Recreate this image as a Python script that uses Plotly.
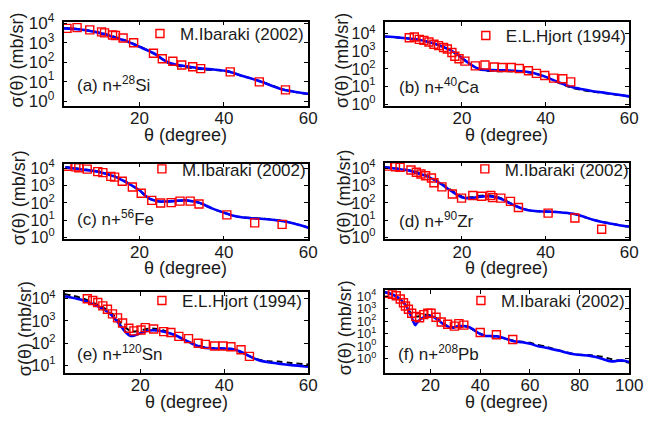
import plotly.graph_objects as go

W, H = 655, 425

# ---------------- data ----------------
# (a) n+28Si
theta_a = [2, 6, 10, 13, 16.4, 18, 20, 22, 24, 25.5, 27, 28.5, 30.3, 32.5, 34.9, 37.5, 40.3, 42.3, 44.2, 46.5, 48.9, 51.5, 54.2, 57, 60]
blue_a = [5500, 4800, 3400, 2250, 1320, 950, 620, 400, 240, 140, 93, 76, 65, 55, 47, 42, 36, 28, 20, 14.5, 9.8, 6.0, 3.8, 2.95, 2.4]
dash_a = [5600, 4900, 3500, 2350, 1380, 1000, 640, 400, 235, 135, 88, 70, 58, 50, 43, 40, 35, 28, 20, 14.5, 10, 6.2, 3.9, 2.9, 2.3]
theta_a_exp = [2.8, 5.2, 8.2, 11.0, 11.7, 13.6, 14.3, 16.1, 18.6, 23.3, 25.4, 27.9, 30.0, 32.6, 34.5, 41.5, 48.4, 54.6]
sigma_a_exp = [5500, 6000, 4600, 3600, 3200, 2500, 2350, 1740, 1000, 290, 150, 112, 72, 58, 47, 32, 9.8, 3.8]

# (b) n+40Ca
theta_b = [1.5, 5, 9, 12, 14.5, 16.5, 18.4, 20, 21.5, 23.8, 25, 27, 30, 32.4, 35, 37.1, 40.2, 42.5, 44.9, 46.5, 48.8, 51, 53.5, 57, 60]
blue_b = [6900, 6000, 4800, 3400, 2240, 1410, 790, 420, 224, 105, 91, 85, 83, 79, 71, 59, 34, 20, 12, 8.9, 6.9, 5.6, 4.6, 3.5, 2.75]
dash_b = [6900, 6000, 4800, 3400, 2200, 1380, 760, 400, 215, 100, 84, 76, 74, 72, 68, 57, 33, 19, 11, 8.2, 6.3, 5.2, 4.3, 3.4, 2.7]
theta_b_exp = [7.4, 8.6, 9.8, 10.9, 12.1, 13.3, 14.4, 15.6, 16.5, 17.6, 18.3, 19.3, 20.7, 23.2, 25.5, 27.7, 29.6, 31.8, 33.7, 35.9, 37.8, 39.8, 41.9, 44.1, 46.0]
sigma_b_exp = [5900, 6500, 4800, 4200, 3400, 2500, 2100, 1660, 1350, 850, 525, 380, 275, 148, 166, 129, 120, 120, 105, 79, 56, 42, 30, 27.5, 18.2]

# (c) n+56Fe
theta_c = [2.4, 6, 10.1, 12, 14, 15.5, 17.1, 18.6, 20.2, 21.3, 22.5, 24.8, 26.3, 27.9, 29.5, 31, 32.5, 34.1, 35.7, 37.2, 38.8, 40.3, 42, 44.2, 46.5, 48.8, 51.5, 54.2, 57, 60]
blue_c = [11500, 8900, 6500, 4900, 3470, 2340, 1480, 890, 500, 280, 174, 123, 123, 129, 138, 141, 126, 105, 72, 49, 35, 26, 19, 14.8, 13.2, 12.3, 10.7, 8.7, 6.0, 3.7]
dash_c = [12000, 9300, 6800, 5100, 3600, 2400, 1500, 880, 490, 270, 168, 120, 122, 128, 136, 138, 124, 103, 70, 47, 34, 25.5, 19, 15, 13.5, 12.6, 11, 9.0, 6.2, 3.8]
theta_c_exp = [2.8, 4.9, 5.6, 7.6, 10.1, 11.3, 13.2, 14.1, 15.9, 18.3, 20.4, 22.9, 25.0, 27.5, 29.6, 32.0, 34.1, 40.7, 47.3, 53.8]
sigma_c_exp = [13500, 12300, 11000, 9100, 6500, 5750, 3470, 3160, 1820, 850, 363, 141, 100, 105, 129, 129, 87, 20.4, 7.1, 5.75]

# (d) n+90Zr
theta_d = [1.5, 4.5, 7.4, 10.6, 12.2, 13.7, 15.3, 16.8, 18.3, 19.9, 21, 22.2, 24, 26.1, 27.7, 29.3, 30.8, 32.4, 34, 35.5, 37.4, 39.4, 41.3, 43.3, 45.3, 47.2, 49.2, 51.1, 53.5, 55.8, 58, 60]
blue_d = [11500, 9300, 7400, 4270, 3020, 1950, 1120, 617, 355, 214, 190, 190, 224, 245, 224, 174, 115, 74, 51, 39, 34, 32, 31, 29, 26, 22.4, 15.8, 11, 7.9, 6.2, 5.0, 4.3]
dash_d = [12000, 9800, 7900, 4700, 3300, 2150, 1250, 700, 400, 240, 215, 215, 250, 275, 250, 190, 122, 77, 52, 40, 34, 32, 31, 29.5, 26, 22, 15.5, 11, 8.2, 6.3, 5.0, 4.2]
theta_d_exp = [2.0, 4.1, 5.2, 7.8, 9.1, 10.2, 11.3, 12.7, 13.3, 15.2, 17.7, 19.9, 22.6, 24.7, 26.9, 27.3, 29.3, 31.6, 33.5, 40.6, 47.0, 53.4]
sigma_d_exp = [13500, 12300, 11500, 8100, 6000, 4700, 3700, 2750, 1480, 850, 330, 190, 270, 245, 270, 204, 190, 123, 55, 25.7, 13.5, 3.0]

# (e) n+120Sn
theta_e = [1.9, 5.8, 9.7, 12.9, 15.2, 16.5, 17.6, 18.4, 19.2, 20.7, 22.3, 24, 25.4, 27, 28.6, 30.2, 31.7, 33.2, 34.8, 36.8, 38.8, 41.9, 43.5, 45, 46.6, 48.2, 50.5, 52.9, 56, 60]
blue_e = [13200, 9300, 4800, 2090, 646, 316, 214, 214, 240, 316, 372, 372, 331, 275, 214, 151, 110, 79, 63, 58, 56, 54, 44, 32, 22.4, 16.6, 13.5, 11.7, 10, 8.5]
dash_e = [16600, 11200, 5600, 2500, 890, 500, 355, 330, 340, 400, 457, 436, 380, 288, 214, 151, 112, 85, 68, 60, 57.5, 52.5, 41.7, 31.6, 22.9, 17.8, 15.1, 14.5, 12.6, 10.7]
theta_e_exp = [7.4, 8.7, 9.9, 11.1, 12.2, 13.4, 14.6, 15.8, 17.3, 18.5, 20.2, 21.2, 23.2, 25.6, 27.3, 29.2, 31.5, 33.8, 35.5, 37.7, 39.7, 41.6, 44.0, 46.0]
sigma_e_exp = [10200, 8500, 6800, 4800, 3400, 2090, 1380, 810, 470, 355, 390, 500, 435, 330, 300, 200, 158, 98, 87, 74, 74, 68, 50, 25]

# (f) n+208Pb
theta_f = [1.6, 4.9, 7.5, 9, 10.2, 12.1, 13, 13.8, 14.5, 15.4, 16.5, 18, 20.7, 23.3, 24.8, 26.6, 28.5, 30, 31.1, 33, 35.1, 37, 39, 41.7, 44, 46.9, 50, 53.5, 57, 60.1, 63, 66.6, 69, 71.9, 74.5, 77.1, 80.5, 83.7, 86.5, 89, 91, 92.9, 94.8, 96.8, 98.5, 100]
blue_f = [20400, 12600, 6200, 3160, 1620, 275, 100, 47, 71, 112, 166, 229, 229, 112, 63, 39, 29, 33, 39, 40, 35, 22.4, 12, 6.6, 6.3, 5.9, 4.0, 2.4, 2.0, 1.5, 1.0, 0.74, 0.56, 0.42, 0.30, 0.23, 0.19, 0.17, 0.13, 0.095, 0.071, 0.059, 0.063, 0.071, 0.063, 0.052]
dash_f = [21400, 13200, 6300, 3160, 1660, 400, 282, 240, 229, 240, 282, 316, 263, 126, 71, 42, 32, 33, 38, 40, 33, 21, 12, 7.2, 6.3, 5.6, 4.0, 2.6, 2.2, 1.8, 1.26, 0.89, 0.63, 0.45, 0.32, 0.24, 0.2, 0.19, 0.166, 0.141, 0.112, 0.089, 0.076, 0.063, 0.052, 0.045]
theta_f_exp = [1.6, 2.9, 4.6, 6.2, 7.8, 9.1, 9.9, 11.1, 12.4, 14.1, 15.6, 17.3, 18.9, 20.2, 22.2, 24.3, 26.9, 29.6, 31.4, 33.4, 40.0, 46.5, 53.1]
sigma_f_exp = [20400, 17000, 14100, 10700, 5900, 2900, 1620, 890, 417, 229, 182, 324, 417, 417, 204, 83, 56, 39, 62, 47, 12, 7.9, 3.3]

# tick labels
ytick_vals_std = [1, 10, 100, 1000, 10000]
ytick_text_std = ["10<sup>0</sup>", "10<sup>1</sup>", "10<sup>2</sup>", "10<sup>3</sup>", "10<sup>4</sup>"]
ytick_vals_e = [10, 100, 1000, 10000]
ytick_text_e = ["10<sup>1</sup>", "10<sup>2</sup>", "10<sup>3</sup>", "10<sup>4</sup>"]
ytick_vals_f = [10000, 1000, 100, 10, 1, 0.1]
ytick_text_f = ["10<sup>4</sup>", "10<sup>3</sup>", "10<sup>2</sup>", "10<sup>1</sup>", "10<sup>0</sup>", "10<sup>0</sup>"]
xtick_60 = [20, 40, 60]
xtick_100 = [20, 40, 60, 80, 100]

labels = ["(a) n+<sup>28</sup>Si", "(b) n+<sup>40</sup>Ca", "(c) n+<sup>56</sup>Fe",
          "(d) n+<sup>90</sup>Zr", "(e) n+<sup>120</sup>Sn", "(f) n+<sup>208</sup>Pb"]
exp_names = ["M.Ibaraki (2002)", "E.L.Hjort (1994)", "M.Ibaraki (2002)",
             "M.Ibaraki (2002)", "E.L.Hjort (1994)", "M.Ibaraki (2002)"]

series = [
    (theta_a, blue_a, dash_a, theta_a_exp, sigma_a_exp),
    (theta_b, blue_b, dash_b, theta_b_exp, sigma_b_exp),
    (theta_c, blue_c, dash_c, theta_c_exp, sigma_c_exp),
    (theta_d, blue_d, dash_d, theta_d_exp, sigma_d_exp),
    (theta_e, blue_e, dash_e, theta_e_exp, sigma_e_exp),
    (theta_f, blue_f, dash_f, theta_f_exp, sigma_f_exp),
]

# ---------------- layout (pixel geometry) ----------------
FONT = "Liberation Sans, Arial, Helvetica, sans-serif"
TXT = "#1a1a1a"

panel_layout = [
    dict(box=(65, 12, 315, 100), yr=(-0.25, 4.09), xr=(2, 60), yv=ytick_vals_std, yt=ytick_text_std, yfs=17, xv=xtick_60,
         leg=(183, 25), lab=(77, 77), ytx=17, xty=130),
    dict(box=(393, 13, 643, 100), yr=(-0.11, 4.64), xr=(1.5, 60), yv=ytick_vals_std, yt=ytick_text_std, yfs=16, xv=xtick_60,
         leg=(516, 27), lab=(406, 79), ytx=350, xty=130),
    dict(box=(65, 160, 315, 239), yr=(-0.11, 4.28), xr=(2, 60), yv=ytick_vals_std, yt=ytick_text_std, yfs=16, xv=xtick_60,
         leg=(185, 166), lab=(77, 217), ytx=19, xty=269),
    dict(box=(393, 159, 643, 239), yr=(-0.11, 4.33), xr=(1.5, 60), yv=ytick_vals_std, yt=ytick_text_std, yfs=16, xv=xtick_60,
         leg=(515, 166), lab=(406, 219), ytx=352, xty=269),
    dict(box=(66, 294, 315, 378), yr=(0.65, 4.30), xr=(2, 60), yv=ytick_vals_e, yt=ytick_text_e, yfs=16, xv=xtick_60,
         leg=(185, 303), lab=(77, 357), ytx=25, xty=408),
    dict(box=(393, 292, 643, 378), yr=(-2.15, 4.46), xr=(1.5, 100), yv=ytick_vals_f, yt=ytick_text_f, yfs=13, xv=xtick_100,
         leg=(511, 303), lab=(405, 357), ytx=352, xty=408),
]

fig = go.Figure()
layout = dict(
    width=W, height=H, margin=dict(l=0, r=0, t=0, b=0),
    paper_bgcolor="white", plot_bgcolor="white",
    font=dict(family=FONT, color=TXT, size=16),
    annotations=[],
)

for i, (pl, (th, bl, da, thx, sx)) in enumerate(zip(panel_layout, series)):
    n = "" if i == 0 else str(i + 1)
    xa, ya = "x" + n, "y" + n
    legname = "legend" + n
    x0, y0, x1, y1 = pl["box"]

    fig.add_trace(go.Scatter(x=th, y=da, mode="lines", xaxis=xa, yaxis=ya, showlegend=False,
                             line=dict(color="black", width=2, dash="6px,4px", shape="spline", smoothing=0.8)))
    fig.add_trace(go.Scatter(x=th, y=bl, mode="lines", xaxis=xa, yaxis=ya, showlegend=False,
                             line=dict(color="#0000ff", width=2.6, shape="spline", smoothing=0.8)))
    fig.add_trace(go.Scatter(x=thx, y=sx, mode="markers", xaxis=xa, yaxis=ya, name=exp_names[i],
                             legend=legname, showlegend=True,
                             marker=dict(symbol="square-open", size=8, color="#ff0000", line=dict(width=1.4, color="#ff0000"))))

    axis_common = dict(showline=True, linecolor="black", linewidth=1.6, mirror="ticks", ticks="inside",
                       ticklen=4, tickwidth=1, tickcolor="black", showgrid=False, zeroline=False)
    layout["xaxis" + n] = dict(domain=[x0 / W, x1 / W], range=list(pl["xr"]), anchor=ya,
                               tickvals=pl["xv"], tickfont=dict(size=17, family=FONT, color=TXT),
                               ticklabelstandoff=-4, **axis_common)
    layout["yaxis" + n] = dict(domain=[1 - y1 / H, 1 - y0 / H], type="log", range=list(pl["yr"]), anchor=xa,
                               tickvals=pl["yv"], ticktext=pl["yt"],
                               tickfont=dict(size=pl["yfs"], family=FONT, color=TXT),
                               ticklabelstandoff=4, **axis_common)
    lx, ly = pl["leg"]
    layout[legname] = dict(x=(lx - 40) / W, y=1 - ly / H, xanchor="left", yanchor="middle",
                           bgcolor="rgba(0,0,0,0)", borderwidth=0,
                           font=dict(size=17, family=FONT, color=TXT))
    # panel label
    bx, by = pl["lab"]
    layout["annotations"].append(dict(text=labels[i], x=bx / W, y=1 - by / H, xref="paper", yref="paper",
                                      xanchor="left", yanchor="middle", showarrow=False,
                                      font=dict(size=17, family=FONT, color=TXT)))
    # y title
    layout["annotations"].append(dict(text="σ(θ) (mb/sr)", x=pl["ytx"] / W, y=1 - ((y0 + y1) / 2 - 4) / H,
                                      xref="paper", yref="paper", textangle=-90, xanchor="center", yanchor="middle",
                                      showarrow=False, font=dict(size=18, family=FONT, color=TXT)))
    # x title
    layout["annotations"].append(dict(text="θ (degree)", x=((x0 + x1) / 2) / W, y=1 - pl["xty"] / H,
                                      xref="paper", yref="paper", xanchor="center", yanchor="middle",
                                      showarrow=False, font=dict(size=18, family=FONT, color=TXT)))

fig.update_layout(**layout)
fig.write_html("out.html")
